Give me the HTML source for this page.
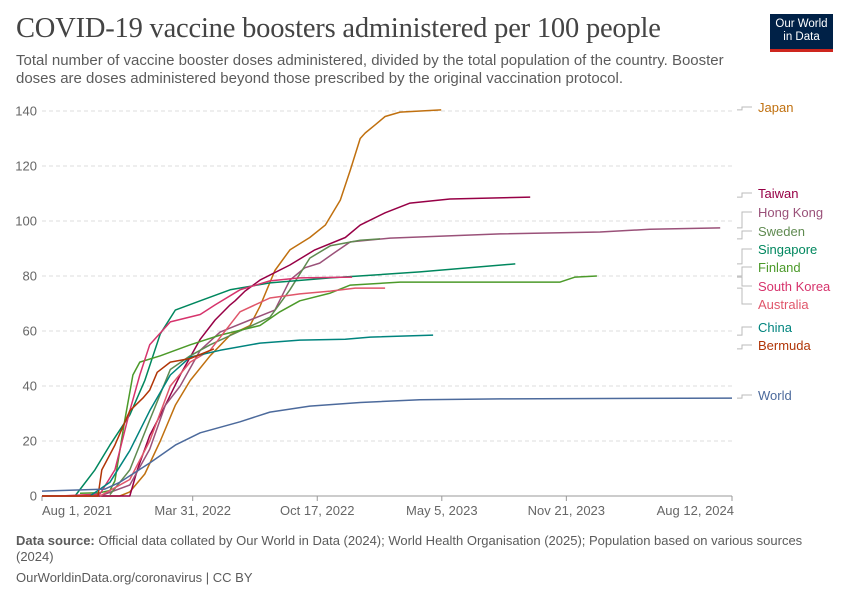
<!DOCTYPE html>
<html><head><meta charset="utf-8"><style>
body{margin:0;width:850px;height:600px;background:#fff;font-family:"Liberation Sans",sans-serif;overflow:hidden;position:relative}
.t{position:absolute}
</style></head><body>
<div class="t" style="left:16px;top:13px;font-family:'Liberation Serif',serif;font-size:28.5px;color:#444;letter-spacing:-0.2px">COVID-19 vaccine boosters administered per 100 people</div>
<div class="t" style="left:16px;top:52px;width:730px;font-size:15px;line-height:18px;color:#5b5b5b">Total number of vaccine booster doses administered, divided by the total population of the country. Booster doses are doses administered beyond those prescribed by the original vaccination protocol.</div>
<div class="t" style="left:770px;top:14px;width:63px;height:38px;background:#002147;border-bottom:3px solid #ce261e;color:#fff;font-size:11.5px;line-height:13px;text-align:center;padding-top:4px;box-sizing:border-box">Our World<br>in Data</div>
<svg class="t" style="left:0;top:0" width="850" height="600" id="chart"></svg>
<div class="t" style="left:16px;top:533px;width:805px;font-size:13px;line-height:16px;color:#5b5b5b"><b>Data source:</b> Official data collated by Our World in Data (2024); World Health Organisation (2025); Population based on various sources (2024)</div>
<div class="t" style="left:16px;top:570px;font-size:13px;color:#5b5b5b">OurWorldinData.org/coronavirus | CC BY</div>
<script>
const yTicks=[0,20,40,60,80,100,120,140];
const xTickDays=[0,242,442,642,842,1108];
const xTickLabels=["Aug 1, 2021","Mar 31, 2022","Oct 17, 2022","May 5, 2023","Nov 21, 2023","Aug 12, 2024"];
const seriesNames=["Japan","Taiwan","Hong Kong","Sweden","Singapore","Finland","South Korea","Australia","China","Bermuda","World"];
const seriesColors=["#c0700f","#970046","#9a5179","#5f8a50","#00875e","#4c9a2a","#d6336c","#e0566a","#00847e","#b13507","#4c6a9c"];
const labelY=[111,197,216,235,253,271,290,308,331,349,399];
const japanDays=[0,125,141,165,190,214,238,270,302,334,350,374,398,430,455,479,495,511,519,535,551,575,641];
const japanVals=[0,0,1.5,8,20,33,42,51,58.5,62,69,82,89.5,94,98.5,107.6,118.5,130,132,135,138,139.6,140.4];
const taiwanDays=[0,141,153,173,198,222,254,278,302,310,326,350,398,438,487,511,551,591,655,784];
const taiwanVals=[0,0,9.5,22,33,44,57,64,69.5,71,74.5,78.5,84,89.5,94,98.5,103,106.5,108,108.7];
const hkDays=[93,141,173,198,222,254,286,334,374,398,422,446,471,495,559,736,896,976,1089];
const hkVals=[0,4,17,33,40,53,59.6,64,67.6,78.5,83,84.7,88.7,92.4,93.8,95.3,96,97,97.5];
const swedenDays=[109,141,173,206,238,270,318,366,398,430,463,511,543];
const swedenVals=[0.5,9.5,27.6,46,51,55,60,65,75,86.5,91,93,93.5];
const singDays=[53,85,109,141,165,190,214,254,302,366,463,607,760];
const singVals=[0,9.5,18.5,29.5,42,59,67.6,71,75,77.5,79.3,81.5,84.4];
const finDays=[61,93,109,117,133,146,157,190,238,286,350,382,414,463,495,575,832,856,891];
const finVals=[1,1.2,2,5.5,27.6,44,48.7,51,55,58.5,62,67,71,73.8,76.7,77.8,77.8,79.6,80];
const skDays=[29,93,117,141,157,173,206,254,278,318,366,414,498];
const skVals=[0,0.7,9.5,31,44,55,63.3,66,69.5,75,78.2,79.3,79.6];
const auDays=[93,141,173,206,238,270,318,366,414,463,503,551];
const auVals=[0,6,20,40,48.7,53,67,72,73.5,74.5,75.6,75.6];
const chinaDays=[77,109,141,173,206,238,286,350,414,487,527,628];
const chinaVals=[0,5,16.5,31,44,50.5,53,55.6,56.7,57,57.8,58.5];
const bermDays=[0,90,96,117,141,162,173,185,206,238,276];
const bermVals=[0,0,9.5,18.5,31,35.6,38.5,45,48.7,50,53.5];
const worldDays=[0,101,125,173,214,254,318,366,430,511,607,736,1108];
const worldVals=[1.8,2.5,5,12,18.5,23,27,30.5,32.7,34,35,35.3,35.6];
const allDays=[japanDays,taiwanDays,hkDays,swedenDays,singDays,finDays,skDays,auDays,chinaDays,bermDays,worldDays];
const allVals=[japanVals,taiwanVals,hkVals,swedenVals,singVals,finVals,skVals,auVals,chinaVals,bermVals,worldVals];

const NS="http://www.w3.org/2000/svg",svg=document.getElementById('chart');
const X0=42,X1=732,Y0=496,Y140=111;
const xs=d=>X0+d*(X1-X0)/1108, ys=v=>Y0-v*(Y0-Y140)/140;
function mk(t,a){const e=document.createElementNS(NS,t);for(const k in a)e.setAttribute(k,a[k]);svg.appendChild(e);return e;}
yTicks.forEach(v=>{
  if(v>0){const g=mk('line',{x1:X0,x2:X1,y1:ys(v),y2:ys(v),stroke:'#ddd','stroke-dasharray':'4,3'});
  
  }
  const t=mk('text',{x:37,y:ys(v)+4.5,'text-anchor':'end','font-size':13,fill:'#666','font-family':'Liberation Sans'});
  t.textContent=v;
  
  
});
const ax=mk('line',{x1:X0,x2:X1,y1:Y0,y2:Y0,stroke:'#999'});


xTickDays.forEach((d,i)=>{
  const tk=mk('line',{x1:xs(d),x2:xs(d),y1:Y0,y2:Y0+5,stroke:'#999'});
  
  
  const anchor=i==0?'start':(i==xTickDays.length-1?'end':'middle');
  const t=mk('text',{x:i==0?xs(d):(i==xTickDays.length-1?xs(d)+2:xs(d)),y:515,'text-anchor':anchor,'font-size':13,fill:'#666','font-family':'Liberation Sans'});
  t.textContent=xTickLabels[i];
  
  
});
seriesNames.forEach((n,i)=>{
  const ds=allDays[i],vs=allVals[i];
  const p=mk('polyline',{points:ds.map((d,j)=>xs(d).toFixed(1)+','+ys(vs[j]).toFixed(1)).join(' '),fill:'none',stroke:seriesColors[i],'stroke-width':1.5,'stroke-linejoin':'round'});
  
  
  const endY=ys(vs[vs.length-1]),ly=labelY[i]-4;
  const c=mk('polyline',{points:`737,${endY} 742,${endY} 742,${ly} 752,${ly}`,fill:'none',stroke:'#bbb','stroke-width':1});
  
  
  const t=mk('text',{x:758,y:labelY[i]+1,'font-size':13,fill:seriesColors[i],'font-family':'Liberation Sans'});
  t.textContent=n;
  
  
});
</script>
</body></html>
